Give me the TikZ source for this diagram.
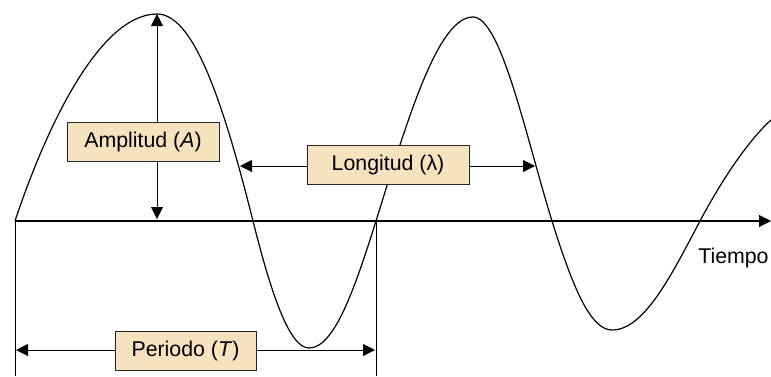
\documentclass[tikz,border=0pt]{standalone}
\usepackage{fontspec}
\setmainfont{Liberation Sans}
\usepackage{tikz}
\usetikzlibrary{arrows.meta, positioning}
\definecolor{boxtan}{RGB}{246,226,190}
\tikzstyle{namebox} = [rectangle, draw=black!85, line width=0.6pt, fill=boxtan, minimum height=29.25pt, inner sep=0pt, text centered, font=\fontsize{16}{19}\selectfont]
\tikzstyle{dimline} = [draw, line width=0.75pt, {Triangle[length=9pt,width=9pt]}-{Triangle[length=9pt,width=9pt]}]
\tikzstyle{axisline} = [draw, line width=0.8pt, -{Triangle[length=9pt,width=9pt]}]
\tikzstyle{wave} = [draw, line width=0.9pt]
\tikzstyle{guide} = [draw, line width=0.75pt]

\begin{document}
\begin{tikzpicture}[x=0.75pt, y=-0.75pt]
    \useasboundingbox (0,0) rectangle (771,376);
    % Points
    \coordinate (t0) at (15,221);
    \coordinate (t1) at (376,221);
    \coordinate (tend) at (771,221);
    \coordinate (crest) at (157,14);
    \coordinate (foot) at (157,219);
    \coordinate (lamL) at (240,166);
    \coordinate (lamR) at (535,166);
    \coordinate (perL) at (16,350);
    \coordinate (perR) at (375,350);

    % Wave
    \path [wave] (t0) .. controls (49,119) and (102,14) .. (crest)
        .. controls (192,14) and (221,93) .. (253,221)
        .. controls (272,297) and (290,348) .. (309,348)
        .. controls (334,348) and (354,291) .. (t1)
        .. controls (408,118) and (438,17) .. (473,17)
        .. controls (501,17) and (526,137) .. (552,221)
        .. controls (572,285) and (590,330) .. (612,330)
        .. controls (644,330) and (671,276) .. (700,221)
        .. controls (725,174) and (751,138) .. (771,120);

    % Edges
    \path [axisline] (t0) -- (tend);
    \path [guide] (t0) -- ++(0,155);
    \path [guide] (t1) -- ++(0,155);
    \path [dimline] (crest) -- (foot);
    \path [dimline] (lamL) -- (lamR);
    \path [dimline] (perL) -- (perR);

    % Nodes
    \node [namebox, minimum width=114pt] (amp) at (143,141.5) {Amplitud (\textit{A})};
    \node [namebox, minimum width=121.5pt] (lon) at (388,164.5) {Longitud (λ)};
    \node [namebox, minimum width=105.75pt] (per) at (185.5,350.5) {Periodo (\textit{T})};
    \node [anchor=base west, inner sep=0pt, font=\fontsize{16}{19}\selectfont] (tiempo) at (698,263) {Tiempo};
\end{tikzpicture}
\end{document}
